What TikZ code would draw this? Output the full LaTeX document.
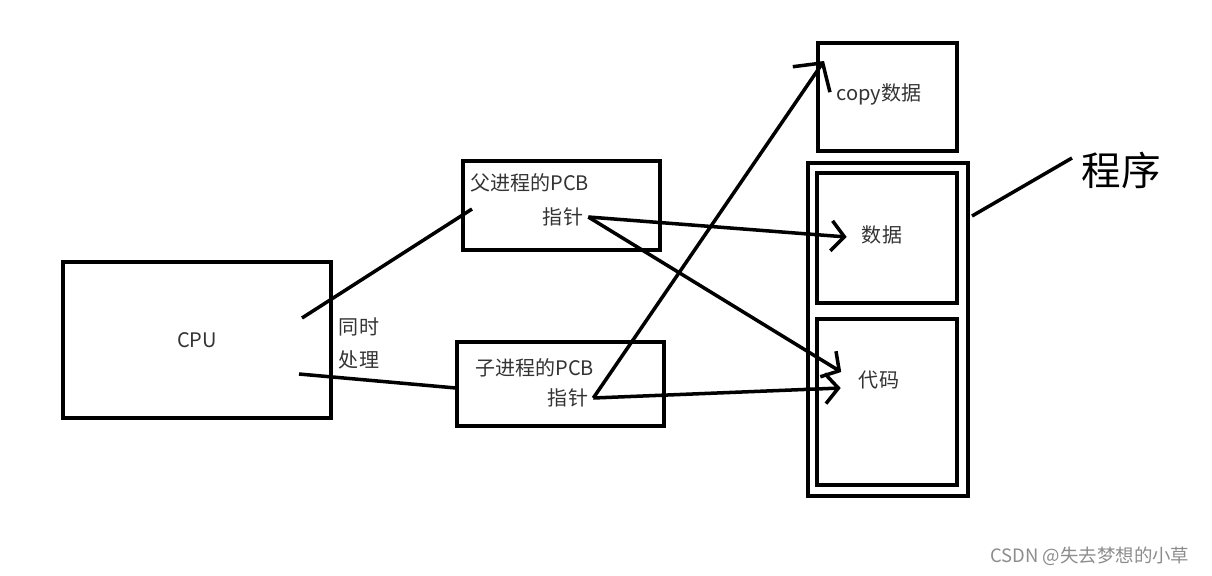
\documentclass[tikz,border=0pt]{standalone}
\usepackage{fontspec}
\setmainfont{Noto Sans CJK SC}
\usepackage{tikz}
\usetikzlibrary{arrows.meta}
\tikzset{
every picture/.style={
line width=2pt
}}
\tikzset{
box/.style={draw, line width=2.3pt, inner sep=0pt},
txt/.style={text=black!80, font=\fontsize{11.4}{13}\selectfont, inner sep=2pt},
barb/.style={-{Straight Barb[length=0.26cm,width=0.6cm]}},
bigbarb/.style={-{Straight Barb[length=0.4cm,width=0.9cm]}}
}

\begin{document}
\begin{tikzpicture}[x=0.02cm, y=-0.02cm]
      \useasboundingbox (0,0) rectangle (1212,575);
      % boxes
      \node[box, txt, minimum width=5.36cm, minimum height=3.12cm] (cpu) at (197,340) {CPU};
      \node[box, minimum width=3.94cm, minimum height=1.78cm] (parent) at (561.5,205.5) {};
      \node[txt, anchor=west] (parenttitle) at (465,183) {父进程的PCB};
      \node[txt] (parentptr) at (563,217) {指针};
      \node[box, minimum width=4.14cm, minimum height=1.68cm] (child) at (560.5,384) {};
      \node[txt, anchor=west] (childtitle) at (470,368) {子进程的PCB};
      \node[txt] (childptr) at (568,398) {指针};
      \node[box, minimum width=2.78cm, minimum height=2.16cm] (copy) at (887.5,97) {};
      \node[txt] (copytxt) at (879,94) {copy数据};
      \node[box, minimum width=3.2cm, minimum height=6.66cm] (prog) at (888,329.5) {};
      \node[box, minimum width=2.8cm, minimum height=2.6cm] (data) at (887,238) {};
      \node[txt] (datatxt) at (882,235) {数据};
      \node[box, minimum width=2.8cm, minimum height=3.32cm] (code) at (887,402) {};
      \node[txt] (codetxt) at (879,380) {代码};
      \node[font=\fontsize{22.5}{26}\selectfont, anchor=west] (progtxt) at (1074,170) {程序};
      \node[txt] (sametime) at (359,327) {同时};
      \node[txt] (handle) at (359,360) {处理};
      \node[text=black!45, font=\fontsize{10.5}{12}\selectfont, anchor=east] (mark) at (1197,556) {CSDN @失去梦想的小草};
      % connectors
      \draw ([shift={(-31,-22)}]cpu.east) -- ([shift={(11,3.5)}]parent.west);
      \draw ([shift={(-34,34)}]cpu.east) -- ([shift={(1,4)}]child.west);
      \draw[barb] (parentptr.east) -- ([shift={(-10,2)}]datatxt.west);
      \draw[barb] (parentptr.east) -- ([shift={(-12.5,-8)}]codetxt.west);
      \draw[barb] (childptr.east) -- ([shift={(-13,8)}]codetxt.west);
      \draw[bigbarb] (childptr.east) -- ([shift={(8,20)}]copy.north west);
      \draw ([shift={(2,55)}]prog.north east) -- ([shift={(-2,-12)}]progtxt.west);
\end{tikzpicture}
\end{document}
